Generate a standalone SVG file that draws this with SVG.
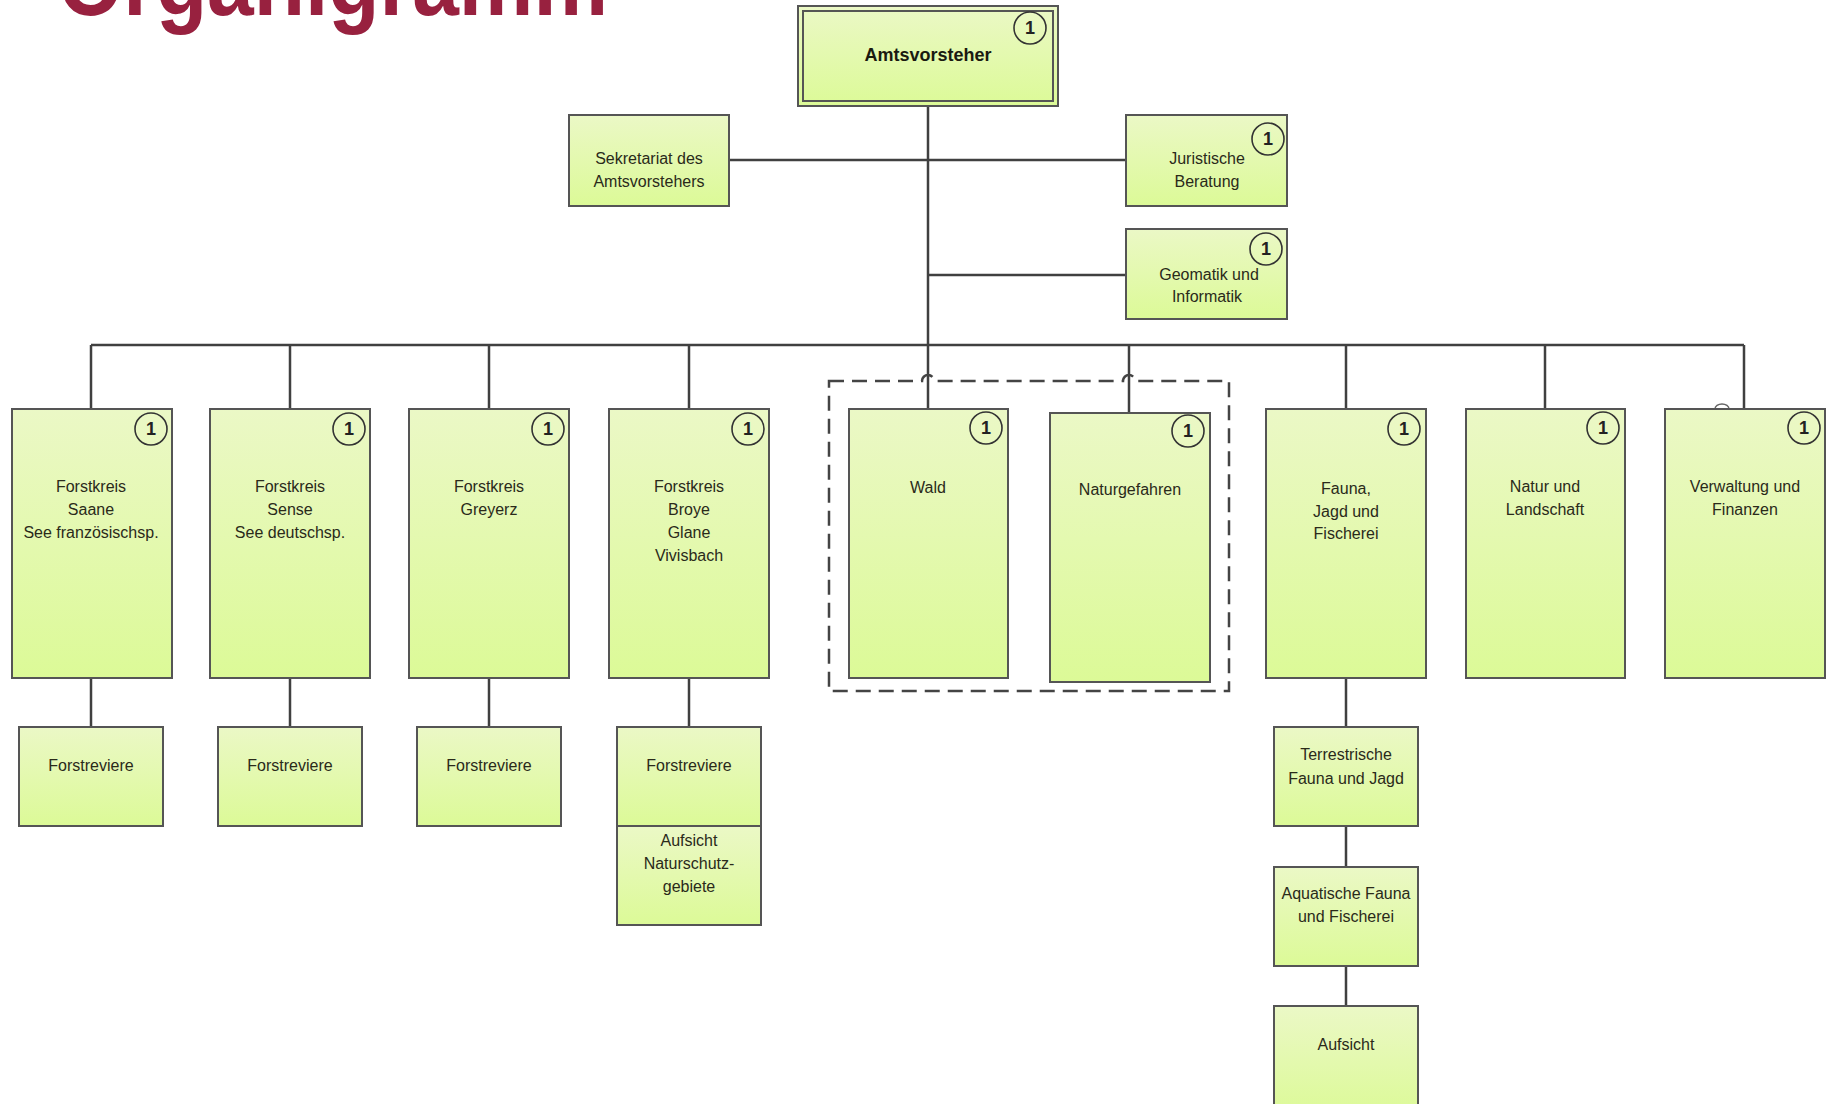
<svg xmlns="http://www.w3.org/2000/svg" width="1833" height="1104" viewBox="0 0 1833 1104">
<defs>
<linearGradient id="g" x1="0" y1="0" x2="0" y2="1">
<stop offset="0" stop-color="#ebf8c6"/>
<stop offset="1" stop-color="#dcfa97"/>
</linearGradient>
<style>
.box{fill:url(#g);stroke:#555;stroke-width:2}
.t{font-family:"Liberation Sans",Arial,sans-serif;font-size:16px;fill:#2a2a1a;text-anchor:middle}
.b{font-family:"Liberation Sans",Arial,sans-serif;font-size:18px;font-weight:bold;fill:#1a1a10;text-anchor:middle}
.badge{fill:none;stroke:#333;stroke-width:1.6}
.bn{font-family:"Liberation Sans",Arial,sans-serif;font-size:18px;font-weight:bold;fill:#222;text-anchor:middle}
.c{fill:none;stroke:#404040;stroke-width:2.5}
.dash{fill:none;stroke:#444;stroke-width:2.5;stroke-dasharray:15 8}
</style>
</defs>
<rect width="1833" height="1104" fill="#fff"/>
<text x="58" y="15" font-family="'Liberation Sans',Arial,sans-serif" font-size="96" font-weight="bold" fill="#98213f" textLength="550" lengthAdjust="spacingAndGlyphs">Organigramm</text>

<g id="connectors">
<path class="c" d="M928 106V409"/>
<path class="c" d="M729 160H1126"/>
<path class="c" d="M928 275H1126"/>
<path class="c" d="M91 345H1744"/>
<path class="c" d="M91 345V409M290 345V409M489 345V409M689 345V409M1129 345V413M1346 345V409M1545 345V409M1744 345V409"/>
<path class="c" d="M91 678V727M290 678V727M489 678V727M689 678V727M1346 678V727M1346 826V867M1346 966V1006"/>
<path d="M1715 409a7 5 0 0 1 14 0" fill="none" stroke="#666" stroke-width="1.5"/>
</g>

<g id="group-wald-naturgefahren">
<path class="dash" d="M829 381H922a6 6 0 0 1 12 0H1123a6 6 0 0 1 12 0H1229V691H829Z"/>
</g>

<g id="amtsvorsteher">
<rect x="798" y="6" width="260" height="100" class="box" stroke-width="2.5"/>
<rect x="803" y="11" width="250" height="90" fill="none" stroke="#555" stroke-width="2"/>
<text x="928" y="61" class="b">Amtsvorsteher</text>
<circle cx="1030" cy="28" r="16" class="badge"/><text x="1030" y="34" class="bn">1</text>
</g>

<g id="sekretariat">
<rect x="569" y="115" width="160" height="91" class="box"/>
<text x="649" y="164" class="t">Sekretariat des</text>
<text x="649" y="187" class="t">Amtsvorstehers</text>
</g>

<g id="juristische-beratung">
<rect x="1126" y="115" width="161" height="91" class="box"/>
<circle cx="1268" cy="139" r="16" class="badge"/><text x="1268" y="145" class="bn">1</text>
<text x="1207" y="164" class="t">Juristische</text>
<text x="1207" y="187" class="t">Beratung</text>
</g>

<g id="geomatik">
<rect x="1126" y="229" width="161" height="90" class="box"/>
<circle cx="1266" cy="249" r="16" class="badge"/><text x="1266" y="255" class="bn">1</text>
<text x="1209" y="280" class="t">Geomatik und</text>
<text x="1207" y="302" class="t">Informatik</text>
</g>

<g id="forstkreis-saane">
<rect x="12" y="409" width="160" height="269" class="box"/>
<circle cx="151" cy="429" r="16" class="badge"/><text x="151" y="435" class="bn">1</text>
<text x="91" y="492" class="t">Forstkreis</text>
<text x="91" y="515" class="t">Saane</text>
<text x="91" y="538" class="t">See französischsp.</text>
</g>

<g id="forstkreis-sense">
<rect x="210" y="409" width="160" height="269" class="box"/>
<circle cx="349" cy="429" r="16" class="badge"/><text x="349" y="435" class="bn">1</text>
<text x="290" y="492" class="t">Forstkreis</text>
<text x="290" y="515" class="t">Sense</text>
<text x="290" y="538" class="t">See deutschsp.</text>
</g>

<g id="forstkreis-greyerz">
<rect x="409" y="409" width="160" height="269" class="box"/>
<circle cx="548" cy="429" r="16" class="badge"/><text x="548" y="435" class="bn">1</text>
<text x="489" y="492" class="t">Forstkreis</text>
<text x="489" y="515" class="t">Greyerz</text>
</g>

<g id="forstkreis-broye">
<rect x="609" y="409" width="160" height="269" class="box"/>
<circle cx="748" cy="429" r="16" class="badge"/><text x="748" y="435" class="bn">1</text>
<text x="689" y="492" class="t">Forstkreis</text>
<text x="689" y="515" class="t">Broye</text>
<text x="689" y="538" class="t">Glane</text>
<text x="689" y="561" class="t">Vivisbach</text>
</g>

<g id="wald">
<rect x="849" y="409" width="159" height="269" class="box"/>
<circle cx="986" cy="428" r="16" class="badge"/><text x="986" y="434" class="bn">1</text>
<text x="928" y="493" class="t">Wald</text>
</g>

<g id="naturgefahren">
<rect x="1050" y="413" width="160" height="269" class="box"/>
<circle cx="1188" cy="431" r="16" class="badge"/><text x="1188" y="437" class="bn">1</text>
<text x="1130" y="495" class="t">Naturgefahren</text>
</g>

<g id="fauna">
<rect x="1266" y="409" width="160" height="269" class="box"/>
<circle cx="1404" cy="429" r="16" class="badge"/><text x="1404" y="435" class="bn">1</text>
<text x="1346" y="494" class="t">Fauna,</text>
<text x="1346" y="517" class="t">Jagd und</text>
<text x="1346" y="539" class="t">Fischerei</text>
</g>

<g id="natur-landschaft">
<rect x="1466" y="409" width="159" height="269" class="box"/>
<circle cx="1603" cy="428" r="16" class="badge"/><text x="1603" y="434" class="bn">1</text>
<text x="1545" y="492" class="t">Natur und</text>
<text x="1545" y="515" class="t">Landschaft</text>
</g>

<g id="verwaltung-finanzen">
<rect x="1665" y="409" width="160" height="269" class="box"/>
<circle cx="1804" cy="428" r="16" class="badge"/><text x="1804" y="434" class="bn">1</text>
<text x="1745" y="492" class="t">Verwaltung und</text>
<text x="1745" y="515" class="t">Finanzen</text>
</g>

<g id="forstreviere-1">
<rect x="19" y="727" width="144" height="99" class="box"/>
<text x="91" y="771" class="t">Forstreviere</text>
</g>
<g id="forstreviere-2">
<rect x="218" y="727" width="144" height="99" class="box"/>
<text x="290" y="771" class="t">Forstreviere</text>
</g>
<g id="forstreviere-3">
<rect x="417" y="727" width="144" height="99" class="box"/>
<text x="489" y="771" class="t">Forstreviere</text>
</g>
<g id="forstreviere-4">
<rect x="617" y="727" width="144" height="99" class="box"/>
<text x="689" y="771" class="t">Forstreviere</text>
</g>
<g id="aufsicht-naturschutzgebiete">
<rect x="617" y="826" width="144" height="99" class="box"/>
<text x="689" y="846" class="t">Aufsicht</text>
<text x="689" y="869" class="t">Naturschutz-</text>
<text x="689" y="892" class="t">gebiete</text>
</g>

<g id="terrestrische">
<rect x="1274" y="727" width="144" height="99" class="box"/>
<text x="1346" y="760" class="t">Terrestrische</text>
<text x="1346" y="784" class="t">Fauna und Jagd</text>
</g>
<g id="aquatische">
<rect x="1274" y="867" width="144" height="99" class="box"/>
<text x="1346" y="899" class="t">Aquatische Fauna</text>
<text x="1346" y="922" class="t">und Fischerei</text>
</g>
<g id="aufsicht">
<rect x="1274" y="1006" width="144" height="110" class="box"/>
<text x="1346" y="1050" class="t">Aufsicht</text>
</g>
</svg>
